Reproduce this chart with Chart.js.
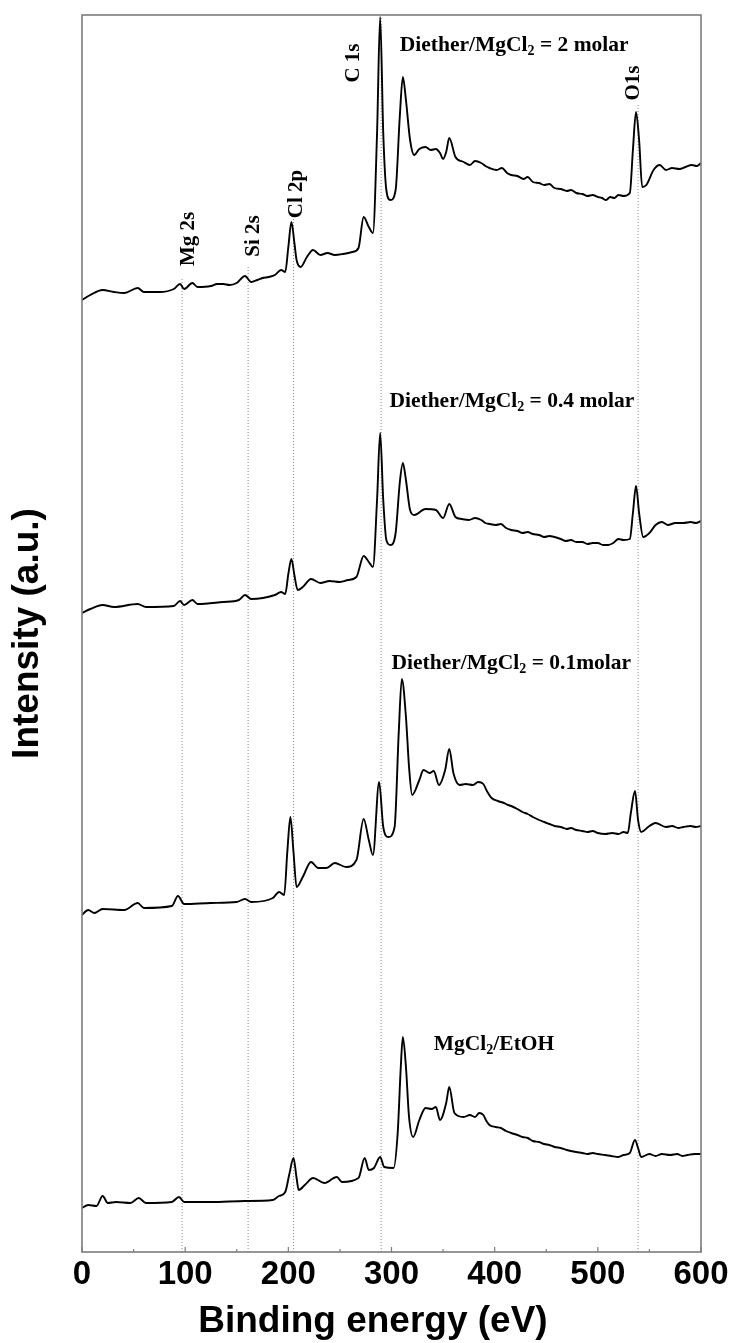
<!DOCTYPE html>
<html>
<head>
<meta charset="utf-8">
<title>XPS survey spectra</title>
<script src="https://cdn.jsdelivr.net/npm/chart.js@4.4.1/dist/chart.umd.min.js"></script>
<style>
  html, body { margin: 0; padding: 0; background: #fff; }
  #wrap { width: 734px; height: 1343px; }
</style>
</head>
<body>
<div id="wrap"><canvas id="xps" width="734" height="1343"></canvas></div>
<script>
'use strict';

/* --- spectra: binding energy (eV) and offset intensity (a.u.) --- */
const eV_2molar = [0, 8, 20, 31, 41, 54, 60, 75, 89, 95, 99, 107, 112, 125, 131, 137, 143, 150, 158, 164, 170, 175, 181, 187, 193, 197, 200, 203, 206, 208, 212, 218, 224, 231, 238, 245, 253, 262, 268, 273, 278, 282, 286, 289, 292, 295, 299, 304, 308, 311, 314, 318, 322, 327, 333, 338, 343, 347, 350, 353, 356, 362, 370, 376, 381, 387, 391, 395, 402, 407, 412, 416, 422, 428, 432, 437, 443, 448, 453, 458, 464, 470, 474, 479, 485, 490, 495, 500, 504, 508, 512, 516, 520, 525, 531, 534, 537, 540, 543, 547, 554, 560, 566, 572, 579, 585, 591, 596, 600];
const int_2molar = [952, 957, 962, 960, 959, 964, 960, 960, 963, 968, 963, 969, 965, 966, 968, 968, 967, 969, 976, 970, 972, 974, 975, 977, 982, 980, 1005, 1030, 1008, 992, 985, 995, 1002, 997, 999, 997, 998, 1000, 1004, 1035, 1025, 1019, 1119, 1235, 1119, 1062, 1052, 1062, 1135, 1175, 1152, 1112, 1097, 1103, 1105, 1102, 1103, 1099, 1093, 1100, 1114, 1095, 1090, 1087, 1091, 1089, 1086, 1084, 1082, 1084, 1079, 1077, 1076, 1073, 1075, 1070, 1069, 1067, 1068, 1064, 1063, 1061, 1062, 1059, 1058, 1056, 1057, 1055, 1054, 1052, 1055, 1054, 1057, 1056, 1059, 1102, 1140, 1112, 1065, 1067, 1082, 1087, 1082, 1084, 1083, 1085, 1087, 1086, 1089];

const eV_04molar = [0, 8, 20, 31, 54, 62, 89, 95, 99, 107, 112, 137, 152, 158, 164, 187, 193, 197, 200, 203, 206, 209, 214, 222, 231, 240, 250, 258, 266, 273, 278, 282, 286, 289, 292, 295, 299, 304, 308, 311, 314, 318, 322, 333, 343, 350, 356, 362, 368, 375, 381, 387, 391, 395, 401, 406, 411, 416, 422, 427, 432, 437, 443, 448, 453, 458, 464, 469, 474, 479, 485, 490, 495, 500, 505, 510, 515, 520, 525, 531, 534, 537, 540, 544, 550, 556, 562, 568, 575, 583, 590, 595, 600];
const int_04molar = [639, 643, 647, 645, 648, 645, 646, 651, 647, 652, 648, 650, 652, 657, 653, 657, 660, 658, 678, 693, 676, 662, 665, 673, 669, 671, 670, 672, 675, 696, 690, 685, 752, 819, 752, 712, 707, 719, 769, 789, 772, 742, 737, 743, 742, 734, 748, 735, 733, 732, 734, 732, 729, 728, 727, 728, 724, 722, 721, 719, 720, 718, 717, 715, 716, 715, 713, 711, 712, 710, 710, 708, 709, 709, 707, 707, 709, 713, 712, 713, 739, 766, 739, 715, 719, 727, 730, 727, 729, 729, 730, 729, 731];

const eV_01molar = [0, 6, 12, 20, 41, 54, 60, 87, 93, 99, 125, 150, 158, 164, 185, 191, 196, 199, 202, 205, 208, 214, 222, 229, 237, 245, 256, 266, 273, 278, 282, 288, 292, 297, 303, 307, 310, 314, 317, 320, 327, 331, 337, 341, 346, 352, 356, 360, 366, 372, 379, 384, 389, 393, 397, 403, 409, 413, 416, 422, 427, 432, 437, 443, 448, 453, 458, 464, 470, 474, 479, 485, 490, 495, 500, 507, 514, 520, 525, 529, 532, 536, 539, 542, 550, 556, 566, 572, 578, 583, 590, 595, 600];
const int_01molar = [337, 342, 339, 343, 342, 349, 344, 346, 356, 348, 349, 350, 353, 350, 354, 360, 357, 400, 435, 400, 365, 375, 390, 384, 384, 389, 385, 392, 433, 412, 397, 470, 425, 415, 425, 519, 573, 535, 485, 457, 472, 482, 479, 481, 467, 482, 503, 479, 467, 468, 467, 470, 468, 460, 454, 451, 449, 447, 446, 443, 440, 438, 435, 432, 430, 428, 426, 425, 423, 424, 422, 421, 420, 421, 419, 418, 419, 418, 420, 419, 439, 461, 432, 420, 426, 429, 425, 426, 424, 425, 426, 425, 426];

const eV_etoh = [0, 6, 14, 20, 25, 33, 47, 55, 62, 87, 94, 99, 125, 158, 185, 191, 197, 201, 205, 208, 210, 216, 224, 235, 247, 252, 268, 274, 278, 283, 289, 293, 302, 306, 309, 311, 314, 317, 321, 327, 333, 339, 343, 347, 353, 356, 361, 370, 376, 381, 385, 389, 392, 395, 401, 406, 411, 416, 422, 427, 432, 437, 443, 448, 453, 458, 464, 470, 474, 479, 485, 490, 495, 500, 507, 513, 520, 525, 531, 536, 539, 542, 550, 556, 562, 570, 577, 582, 587, 594, 600];
const int_etoh = [44, 47, 46, 56, 49, 50, 49, 54, 49, 50, 55, 50, 50, 51, 52, 56, 60, 78, 94, 74, 62, 67, 74, 69, 75, 70, 74, 94, 82, 84, 95, 85, 84, 119, 185, 215, 185, 135, 115, 132, 144, 143, 145, 132, 149, 165, 139, 135, 137, 135, 139, 137, 131, 127, 125, 124, 121, 119, 117, 115, 114, 111, 110, 108, 107, 105, 104, 102, 101, 100, 99, 98, 99, 98, 97, 96, 95, 97, 99, 112, 104, 95, 98, 96, 98, 97, 98, 96, 97, 98, 98];

/* --- core-level markers --- */
const peakNames = ['Mg 2s', 'Si 2s', 'Cl 2p', 'C 1s', 'O1s'];
const peakEnergies = [97, 161, 205, 290, 539];
const markerTops = [975, 987, 1034, 1235, 1149];

const xTicks = [0, 100, 200, 300, 400, 500, 600];

/* label anchors in data space (centre of rotated peak labels, left edge of sample names) */
const peakLabelAt = [[103, 1013], [166, 1016], [208, 1058], [263, 1189], [535, 1169]];
const samples = [
  { parts: ['Diether/MgCl', '2', ' = 2 molar'], at: [308, 1208] },
  { parts: ['Diether/MgCl', '2', ' = 0.4 molar'], at: [298, 852] },
  { parts: ['Diether/MgCl', '2', ' = 0.1molar'], at: [300, 590] },
  { parts: ['MgCl', '2', '/EtOH'], at: [341, 209] },
];

const SERIF = '"Liberation Serif", "Times New Roman", serif';
const SANS = '"Liberation Sans", Arial, sans-serif';

function pts(xs, ys) { return xs.map((x, i) => ({ x, y: ys[i] })); }

function spectrum(xs, ys) {
  return {
    data: pts(xs, ys), borderColor: '#000', borderWidth: 1.9,
    pointRadius: 0, cubicInterpolationMode: 'monotone', order: 0,
  };
}

const markerSets = peakEnergies.map((e, i) => ({
  data: [{ x: e, y: 0 }, { x: e, y: markerTops[i] }],
  borderColor: '#8a8a8a', borderWidth: 1, borderDash: [1, 2],
  pointRadius: 0, order: 1,
}));

/* frame, inward ticks, x title and text labels */
const decor = {
  id: 'decor',
  afterDraw(chart) {
    const { ctx, chartArea: a, scales: { x, y } } = chart;
    ctx.save();
    ctx.strokeStyle = '#7c7c7c';
    ctx.lineWidth = 1.6;
    ctx.strokeRect(a.left, a.top, a.right - a.left, a.bottom - a.top);
    ctx.lineWidth = 1.2;
    for (let v = 0; v <= 600; v += 50) {
      const px = x.getPixelForValue(v);
      const len = v % 100 === 0 ? 5 : 3;
      ctx.beginPath(); ctx.moveTo(px, a.bottom); ctx.lineTo(px, a.bottom - len); ctx.stroke();
    }

    ctx.fillStyle = '#000';
    ctx.textAlign = 'center';
    ctx.textBaseline = 'middle';
    ctx.font = 'bold 37px ' + SANS;
    ctx.fillText('Binding energy (eV)', x.getPixelForValue(282), a.bottom + 70);

    ctx.font = 'bold 21px ' + SERIF;
    peakNames.forEach((name, i) => {
      const [e, v] = peakLabelAt[i];
      ctx.save();
      ctx.translate(x.getPixelForValue(e), y.getPixelForValue(v));
      ctx.rotate(-Math.PI / 2);
      ctx.fillText(name, 0, 0);
      ctx.restore();
    });

    ctx.textAlign = 'left';
    ctx.textBaseline = 'alphabetic';
    samples.forEach((s) => {
      let px = x.getPixelForValue(s.at[0]);
      const base = y.getPixelForValue(s.at[1]) + 7;
      s.parts.forEach((t, k) => {
        const sub = k === 1;
        ctx.font = 'bold ' + (sub ? 14 : 21.5) + 'px ' + SERIF;
        ctx.fillText(t, px, base + (sub ? 4 : 0));
        px += ctx.measureText(t).width;
      });
    });
    ctx.restore();
  },
};

new Chart(document.getElementById('xps'), {
  type: 'line',
  data: {
    datasets: [
      ...markerSets,
      spectrum(eV_2molar, int_2molar),
      spectrum(eV_04molar, int_04molar),
      spectrum(eV_01molar, int_01molar),
      spectrum(eV_etoh, int_etoh),
    ],
  },
  options: {
    responsive: false, animation: false, devicePixelRatio: 1,
    layout: { padding: { top: 15, right: 33, left: 0, bottom: 0 } },
    plugins: { legend: { display: false }, tooltip: { enabled: false } },
    scales: {
      x: {
        type: 'linear', min: 0, max: 600,
        afterBuildTicks: (s) => { s.ticks = xTicks.map((v) => ({ value: v })); },
        afterFit: (s) => { s.height = 91; },
        grid: { display: false, drawTicks: false }, border: { display: false },
        ticks: { color: '#000', padding: 3, maxRotation: 0, font: { family: SANS, size: 33, weight: 'bold' } },
      },
      y: {
        type: 'linear', min: 0, max: 1237,
        afterFit: (s) => { s.width = 82; },
        grid: { display: false }, border: { display: false },
        ticks: { display: false },
        title: { display: true, text: 'Intensity (a.u.)', color: '#000', padding: { top: 6, bottom: 0 }, font: { family: SANS, size: 37, weight: 'bold' } },
      },
    },
  },
  plugins: [decor],
});
</script>
</body>
</html>
